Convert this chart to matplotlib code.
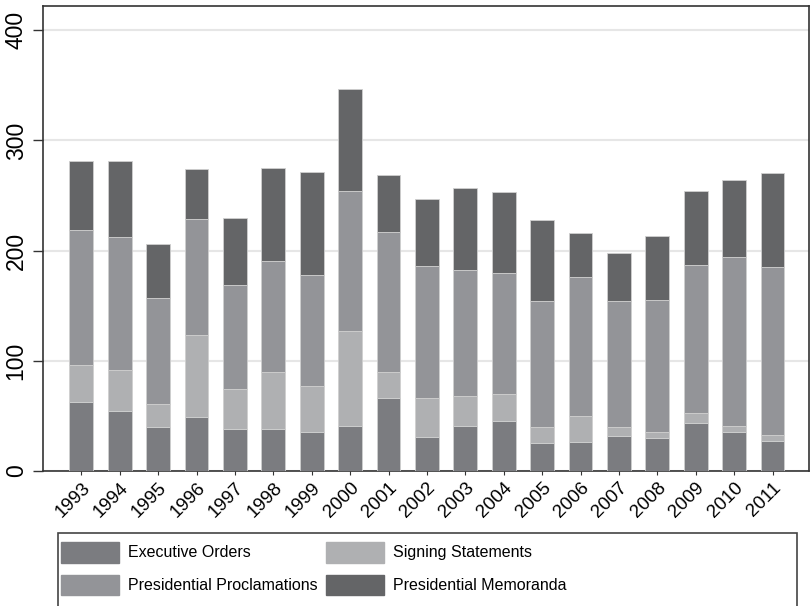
import numpy as np
import matplotlib.pyplot as plt
from matplotlib.patches import Rectangle, Patch

plt.rcParams['font.family'] = ['Liberation Sans', 'DejaVu Sans']

years = [str(y) for y in range(1993, 2012)]
exec_orders = [63, 54, 40, 49, 38, 38, 35, 41, 66, 31, 41, 45, 25, 26, 32, 30, 44, 35, 27]
signing_stmts = [33, 38, 21, 74, 36, 52, 42, 86, 24, 35, 27, 25, 15, 24, 8, 5, 9, 6, 6]
proclamations = [123, 120, 96, 106, 95, 101, 101, 127, 127, 120, 114, 110, 114, 126, 114, 120, 134, 153, 152]
memoranda = [62, 69, 49, 45, 61, 84, 93, 93, 52, 61, 75, 73, 74, 40, 44, 58, 67, 70, 85]

c_eo = '#7b7c80'
c_ss = '#afb0b2'
c_pp = '#939498'
c_pm = '#646567'

fig = plt.figure(figsize=(8.11, 6.06), dpi=100)
ax = fig.add_axes([43/811, 1 - 471/606, (809 - 43)/811, (471 - 6)/606])

x = np.arange(len(years))
w = 0.62
edge = dict(edgecolor='#cfcfcf', linewidth=0.6)

b0 = np.zeros(len(years))
series = [(exec_orders, c_eo), (signing_stmts, c_ss), (proclamations, c_pp), (memoranda, c_pm)]
for vals, col in series:
    ax.bar(x, vals, w, bottom=b0, color=col, zorder=3, **edge)
    b0 = b0 + np.array(vals)

ax.set_xlim(-1, 18.95)
ax.set_ylim(0, 422)
ax.set_yticks([0, 100, 200, 300, 400])
ax.set_yticklabels(['0', '100', '200', '300', '400'], rotation=90, va='center', fontsize=16.5)
ax.yaxis.grid(True, color='#e6e6e6', linewidth=1.5, zorder=0)
ax.set_axisbelow(True)
ax.set_xticks(x)
ax.set_xticklabels(years, rotation=45, ha='right', rotation_mode='anchor', fontsize=13.5)
ax.tick_params(axis='y', length=7, width=1, color='#333333', pad=4)
ax.tick_params(axis='x', length=3, width=0.8, color='#333333', pad=3)
for s in ax.spines.values():
    s.set_color('#333333')
    s.set_linewidth(1.2)

# legend box (runs off the bottom of the figure)
fig.patches.append(Rectangle((58/811, -0.05), (797 - 58)/811, 1 - 533/606 + 0.05,
                             transform=fig.transFigure, fill=False,
                             edgecolor='#444444', linewidth=1.2))

handles = [Patch(color=c_eo), Patch(color=c_pp), Patch(color=c_ss), Patch(color=c_pm)]
labels = ['Executive Orders', 'Presidential Proclamations',
          'Signing Statements', 'Presidential Memoranda']
fig.legend(handles, labels, loc='upper left', bbox_to_anchor=(61/811, 1 - 542/606),
           ncol=2, frameon=False, borderpad=0, borderaxespad=0,
           handlelength=3.66, handleheight=1.6, handletextpad=0.55,
           labelspacing=0.75, columnspacing=0.5, fontsize=11.5)

fig.savefig('out.png', dpi=100)
